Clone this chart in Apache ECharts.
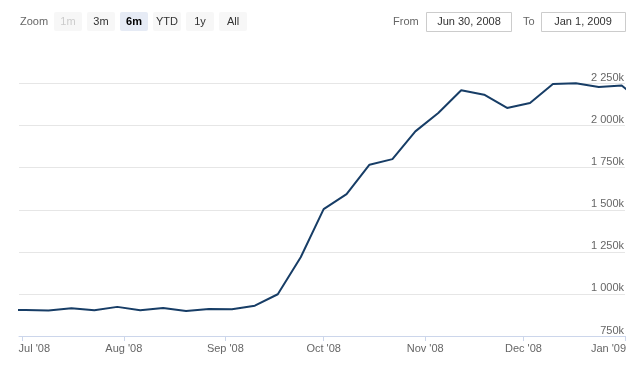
<!DOCTYPE html>
<html>
<head>
<meta charset="utf-8">
<script src="https://cdn.jsdelivr.net/npm/echarts@6/dist/echarts.min.js"></script>
<style>
  html, body { margin: 0; padding: 0; background: #ffffff; }
  #chart { width: 640px; height: 368px; }
</style>
</head>
<body>
<div id="chart"></div>
<script>
// ---- data ----
const weekDates = ['2008-06-25','2008-07-02','2008-07-09','2008-07-16','2008-07-23','2008-07-30',
  '2008-08-06','2008-08-13','2008-08-20','2008-08-27','2008-09-03','2008-09-10','2008-09-17',
  '2008-09-24','2008-10-01','2008-10-08','2008-10-15','2008-10-22','2008-10-29','2008-11-05',
  '2008-11-12','2008-11-19','2008-11-26','2008-12-03','2008-12-10','2008-12-17','2008-12-24',
  '2008-12-31','2009-01-07'];
const assetValues = [905, 904, 901, 915, 903, 923,
  903, 917, 899, 911, 909, 930, 998,
  1218, 1504, 1593, 1768, 1801, 1966, 2075,
  2210, 2184, 2105, 2135, 2248, 2252, 2230,
  2238, 2130];
const monthTicks = ['2008-07-01','2008-08-01','2008-09-01','2008-10-01','2008-11-01','2008-12-01','2009-01-01'];
const yTicks = [750, 1000, 1250, 1500, 1750, 2000, 2250];
const rangeButtons = ['1m','3m','6m','YTD','1y','All'];
const selectedButton = '6m';
const disabledButton = '1m';
const rangeFrom = '2008-06-30';
const rangeTo = '2009-01-01';
const monthNames = ['Jan','Feb','Mar','Apr','May','Jun','Jul','Aug','Sep','Oct','Nov','Dec'];

// ---- helpers ----
function parseDay(s) { const p = s.split('-').map(Number); return Date.UTC(p[0], p[1] - 1, p[2]); }
function fmtInput(s) { const d = new Date(parseDay(s)); return monthNames[d.getUTCMonth()] + ' ' + d.getUTCDate() + ', ' + d.getUTCFullYear(); }
function fmtK(v) {
  const th = Math.floor(v / 1000), rest = v % 1000;
  return (th > 0 ? th + ' ' + String(rest).padStart(3, '0') : String(rest)) + 'k';
}
const FONT = '"Liberation Sans", Arial, sans-serif';
const tickTimes = monthTicks.map(parseDay);
const firstTick = tickTimes[0], lastTick = tickTimes[tickTimes.length - 1];

const chart = echarts.init(document.getElementById('chart'), null, { renderer: 'canvas' });

// range selector graphics
const graphics = [];
graphics.push({ type: 'text', x: 20, y: 21.5, style: { text: 'Zoom', fill: '#666666', font: '11px ' + FONT, verticalAlign: 'middle' } });
rangeButtons.forEach(function (b, i) {
  const x = 54 + i * 33;
  const sel = b === selectedButton, dis = b === disabledButton;
  graphics.push({ type: 'rect', shape: { x: x, y: 12, width: 28, height: 19, r: 2 },
    style: { fill: sel ? '#e6ebf5' : '#f7f7f7' } });
  graphics.push({ type: 'text', x: x + 14, y: 21.5,
    style: { text: b, fill: dis ? '#cccccc' : (sel ? '#000000' : '#333333'),
      font: (sel ? 'bold ' : '') + '11px ' + FONT, align: 'center', verticalAlign: 'middle' } });
});
graphics.push({ type: 'text', x: 393, y: 21.5, style: { text: 'From', fill: '#666666', font: '11px ' + FONT, verticalAlign: 'middle' } });
graphics.push({ type: 'rect', shape: { x: 426.5, y: 12.5, width: 85, height: 19 }, style: { fill: '#ffffff', stroke: '#cccccc', lineWidth: 1 } });
graphics.push({ type: 'text', x: 469, y: 22, style: { text: fmtInput(rangeFrom), fill: '#333333', font: '11px ' + FONT, align: 'center', verticalAlign: 'middle' } });
graphics.push({ type: 'text', x: 523, y: 21.5, style: { text: 'To', fill: '#666666', font: '11px ' + FONT, verticalAlign: 'middle' } });
graphics.push({ type: 'rect', shape: { x: 541.5, y: 12.5, width: 84, height: 19 }, style: { fill: '#ffffff', stroke: '#cccccc', lineWidth: 1 } });
graphics.push({ type: 'text', x: 583, y: 22, style: { text: fmtInput(rangeTo), fill: '#333333', font: '11px ' + FONT, align: 'center', verticalAlign: 'middle' } });

const labelStyle = { fontSize: 11, color: '#666666', fontFamily: FONT };

const option = {
  animation: false,
  backgroundColor: '#ffffff',
  graphic: graphics,
  grid: { left: 19, right: 15, top: 60, bottom: 32 },
  xAxis: {
    type: 'value',
    min: parseDay(rangeFrom),
    max: parseDay(rangeTo),
    axisLine: { show: true, onZero: false, lineStyle: { color: '#ccd6eb', width: 1 } },
    axisTick: { show: true, length: 5, lineStyle: { color: '#ccd6eb' }, customValues: tickTimes },
    splitLine: { show: false },
    axisLabel: {
      customValues: tickTimes,
      margin: 7,
      fontSize: 11, color: '#666666', fontFamily: FONT,
      formatter: function (v) {
        const d = new Date(v);
        const t = monthNames[d.getUTCMonth()] + " '" + String(d.getUTCFullYear()).slice(2);
        if (v === firstTick) return '{first|' + t + '}';
        if (v === lastTick) return '{last|' + t + '}';
        return t;
      },
      rich: {
        first: Object.assign({ padding: [0, 0, 0, 24] }, labelStyle),
        last: Object.assign({ padding: [0, 33, 0, 0] }, labelStyle)
      }
    }
  },
  yAxis: {
    type: 'value',
    position: 'right',
    min: yTicks[0],
    max: 2390,
    interval: yTicks[1] - yTicks[0],
    axisLine: { show: false },
    axisTick: { show: false },
    splitLine: { show: true, showMaxLine: false, lineStyle: { color: '#e6e6e6', width: 1 } },
    axisLabel: {
      inside: true, margin: 1, verticalAlign: 'bottom', showMaxLabel: false,
      fontSize: 11, color: '#666666', fontFamily: FONT,
      formatter: function (v) { return yTicks.indexOf(v) >= 0 ? fmtK(v) : ''; }
    }
  },
  series: [{
    type: 'line',
    data: weekDates.map(function (d, i) { return [parseDay(d), assetValues[i]]; }),
    showSymbol: false,
    clip: true,
    lineStyle: { color: '#173d66', width: 2 },
    itemStyle: { color: '#173d66' }
  }]
};
chart.setOption(option);
</script>
</body>
</html>
